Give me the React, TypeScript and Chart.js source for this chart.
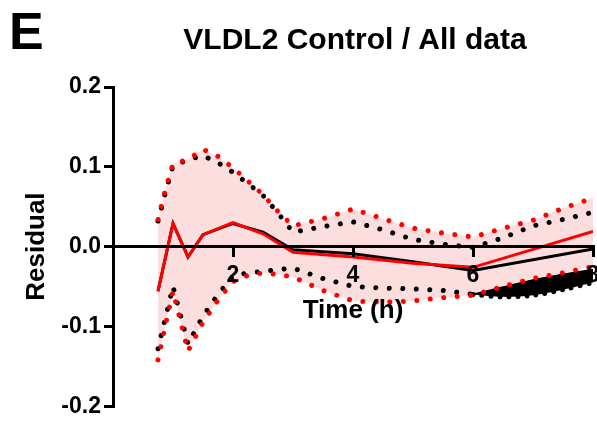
import React, { useEffect, useRef } from 'react';
import { Chart, registerables } from 'chart.js';

Chart.register(...registerables);

const PANEL_LABEL = 'E';
const TITLE = 'VLDL2 Control / All data';
const X_TITLE = 'Time (h)';
const Y_TITLE = 'Residual';

const lineTimes = [0.75, 1, 1.25, 1.5, 2, 2.5, 3, 4, 5, 6, 8];
const redLine = [-0.056, 0.029, -0.013, 0.015, 0.030, 0.016, -0.007, -0.013, -0.021, -0.026, 0.019];
const blackLine = [-0.056, 0.029, -0.013, 0.015, 0.029, 0.018, -0.004, -0.009, -0.019, -0.030, -0.003];

const boundTimes = [0.75, 0.875, 1, 1.25, 1.5, 1.75, 2, 2.25, 2.5, 2.75, 3, 3.5, 4, 4.5, 5, 5.5, 6, 6.5, 7, 7.5, 8];
const redUpper = [0.034, 0.072, 0.104, 0.109, 0.122, 0.113, 0.099, 0.082, 0.065, 0.044, 0.026, 0.035, 0.047, 0.035, 0.023, 0.017, 0.012, 0.023, 0.033, 0.048, 0.061];
const redLower = [-0.142, -0.098, -0.056, -0.131, -0.095, -0.067, -0.044, -0.036, -0.033, -0.035, -0.038, -0.055, -0.068, -0.070, -0.068, -0.064, -0.061, -0.050, -0.040, -0.033, -0.025];
const blackUpper = [0.032, 0.068, 0.101, 0.109, 0.114, 0.105, 0.093, 0.079, 0.064, 0.042, 0.018, 0.025, 0.031, 0.021, 0.009, 0.003, -0.001, 0.011, 0.026, 0.034, 0.043];

const blackLowerTimes = [0.75, 0.875, 1, 1.25, 1.5, 1.75, 2, 2.25, 2.5, 2.75, 3, 3.5, 4, 4.5, 5, 5.5, 6];
const blackLower = [-0.128, -0.089, -0.050, -0.122, -0.087, -0.060, -0.037, -0.033, -0.031, -0.029, -0.027, -0.040, -0.050, -0.052, -0.053, -0.055, -0.060];

const wedgeTimes = [6, 6.5, 7, 7.5, 8];
const wedgeTop = [-0.060, -0.051, -0.042, -0.035, -0.029];
const wedgeBottom = [-0.060, -0.063, -0.061, -0.054, -0.045];

const yTicks = [-0.2, -0.1, 0, 0.1, 0.2];
const xTicks = [2, 4, 6, 8];

const FONT = "'Liberation Sans', Arial, sans-serif";
const RED = '#ff0000';
const BLACK = '#000000';
const PINK = '#fddede';

const pts = (xs: number[], ys: number[]) => xs.map((x, i) => ({ x, y: ys[i] }));

const dotted = (color: string) => ({
  borderColor: color,
  borderWidth: 5,
  borderDash: [0.01, 13.5],
  borderCapStyle: 'round' as const,
  pointRadius: 0,
  tension: 0,
  fill: false,
});

const textPlugin = {
  id: 'panelText',
  afterDraw(chart: any) {
    const ctx = chart.ctx;
    ctx.save();
    ctx.fillStyle = '#000';
    ctx.textBaseline = 'alphabetic';
    ctx.textAlign = 'left';
    ctx.font = `bold 52px ${FONT}`;
    ctx.fillText(PANEL_LABEL, 9, 49);
    ctx.font = `bold 30px ${FONT}`;
    ctx.textAlign = 'center';
    ctx.fillText(TITLE, 355, 49);
    ctx.restore();
  },
};

export default function App() {
  const ref = useRef<HTMLCanvasElement>(null);
  useEffect(() => {
    if (!ref.current) return;
    const chart = new Chart(ref.current, {
      type: 'line',
      data: {
        datasets: [
          { label: 'red fit', data: pts(lineTimes, redLine), borderColor: RED, borderWidth: 3, pointRadius: 0, tension: 0, fill: false, order: 1 },
          { label: 'black fit', data: pts(lineTimes, blackLine), borderColor: BLACK, borderWidth: 3, pointRadius: 0, tension: 0, fill: false, order: 2 },
          { label: 'red upper', data: pts(boundTimes, redUpper), ...dotted(RED), order: 3 },
          { label: 'red lower', data: pts(boundTimes, redLower), ...dotted(RED), order: 3 },
          { label: 'black upper', data: pts(boundTimes, blackUpper), ...dotted(BLACK), order: 4 },
          { label: 'black lower', data: pts(blackLowerTimes, blackLower), ...dotted(BLACK), order: 4 },
          { label: 'wedge top', data: pts(wedgeTimes, wedgeTop), borderColor: BLACK, borderWidth: 2, pointRadius: 0, tension: 0.3, fill: { target: 7 }, backgroundColor: BLACK, order: 8 },
          { label: 'wedge bottom', data: pts(wedgeTimes, wedgeBottom), borderColor: BLACK, borderWidth: 5, borderDash: [0.01, 9], borderCapStyle: 'round', pointRadius: 0, tension: 0.3, fill: false, order: 8 },
          { label: 'band top', data: pts(boundTimes, redUpper), borderWidth: 0, borderColor: 'rgba(0,0,0,0)', pointRadius: 0, tension: 0, fill: { target: 9 }, backgroundColor: PINK, order: 9 },
          { label: 'band bottom', data: pts(boundTimes, redLower), borderWidth: 0, borderColor: 'rgba(0,0,0,0)', pointRadius: 0, tension: 0, fill: false, order: 9 },
        ],
      },
      options: {
        animation: false,
        responsive: false,
        layout: { padding: { left: 0, right: 27, top: 87, bottom: 15 } },
        plugins: { legend: { display: false }, tooltip: { enabled: false }, title: { display: false } },
        scales: {
          x: {
            type: 'linear',
            position: { y: 0 } as any,
            min: 0,
            max: 8,
            afterBuildTicks: (s: any) => { s.ticks = [0, ...xTicks].map((v) => ({ value: v })); },
            ticks: {
              z: 1,
              callback: (v: any) => (v === 0 ? '' : String(v)),
              color: '#000',
              font: { family: FONT, size: 23, weight: 'bold' },
              padding: 6,
              maxRotation: 0,
            },
            grid: { z: 1, drawOnChartArea: false, drawTicks: true, tickLength: 9, color: '#000', lineWidth: 3 },
            border: { z: 1, display: true, color: '#000', width: 3 },
            title: { display: true, text: X_TITLE, color: '#000', font: { family: FONT, size: 26, weight: 'bold' }, padding: { top: 0, bottom: 0 } },
          },
          y: {
            type: 'linear',
            position: 'left',
            min: -0.2,
            max: 0.2,
            afterBuildTicks: (s: any) => { s.ticks = yTicks.map((v) => ({ value: v })); },
            afterFit: (s: any) => { s.width = 113; },
            ticks: {
              z: 1,
              callback: (v: any) => Number(v).toFixed(1),
              color: '#000',
              font: { family: FONT, size: 23, weight: 'bold' },
              padding: 3,
            },
            grid: { z: 1, drawOnChartArea: false, drawTicks: true, tickLength: 9, color: '#000', lineWidth: 3 },
            border: { z: 1, display: true, color: '#000', width: 3 },
            title: { display: true, text: Y_TITLE, color: '#000', font: { family: FONT, size: 26, weight: 'bold' }, padding: { top: 21, bottom: 0 } },
          },
        },
      },
      plugins: [textPlugin],
    });
    return () => chart.destroy();
  }, []);
  return (
    <div style={{ position: 'fixed', left: 0, top: 0, width: 620, height: 423 }}>
      <canvas ref={ref} width={620} height={423} style={{ display: 'block' }} />
    </div>
  );
}
